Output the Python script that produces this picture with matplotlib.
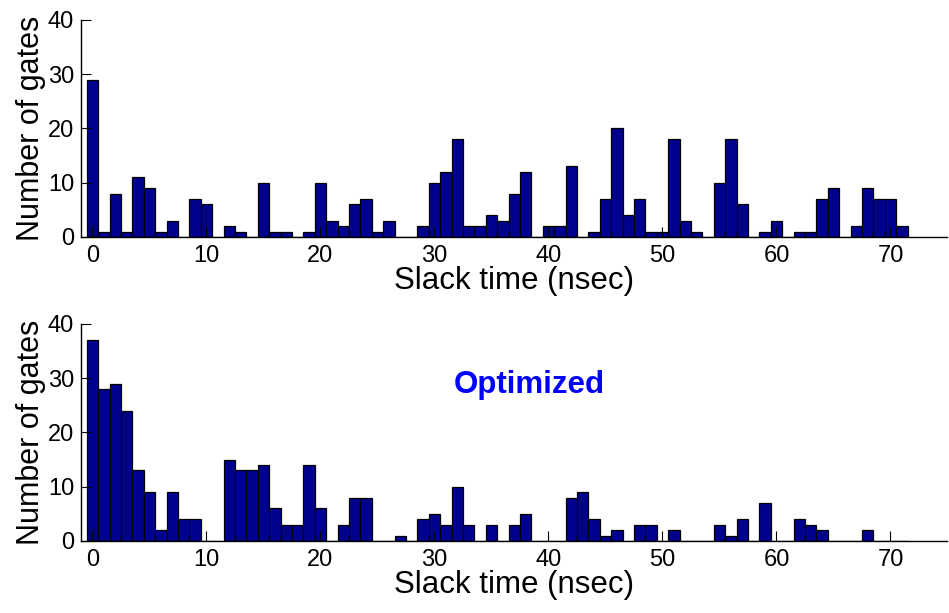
import numpy as np
import matplotlib.pyplot as plt

plt.rcParams['font.family'] = ['Liberation Sans', 'DejaVu Sans']

# slack time bins (nsec)
slack = np.arange(72)

# gate counts per bin, before optimization
gates_orig = [29, 1, 8, 1, 11, 9, 1, 3, 0, 7,
              6, 0, 2, 1, 0, 10, 1, 1, 0, 1,
              10, 3, 2, 6, 7, 1, 3, 0, 0, 2,
              10, 12, 18, 2, 2, 4, 3, 8, 12, 0,
              2, 2, 13, 0, 1, 7, 20, 4, 7, 1,
              1, 18, 3, 1, 0, 10, 18, 6, 0, 1,
              3, 0, 1, 1, 7, 9, 0, 2, 9, 7,
              7, 2]

# gate counts per bin, after optimization
gates_opt = [37, 28, 29, 24, 13, 9, 2, 9, 4, 4,
             0, 0, 15, 13, 13, 14, 6, 3, 3, 14,
             6, 0, 3, 8, 8, 0, 0, 1, 0, 4,
             5, 3, 10, 3, 0, 3, 0, 3, 5, 0,
             0, 0, 8, 9, 4, 1, 2, 0, 3, 3,
             0, 2, 0, 0, 0, 3, 1, 4, 0, 7,
             0, 0, 4, 3, 2, 0, 0, 0, 2, 0,
             0, 0]

xticks = [0, 10, 20, 30, 40, 50, 60, 70]
yticks = [0, 10, 20, 30, 40]

fig = plt.figure(figsize=(9.49, 6.13), dpi=100)
ax1 = fig.add_axes([0.0854, 0.6134, 0.913, 0.354])
ax2 = fig.add_axes([0.0854, 0.1175, 0.913, 0.354])

for ax, counts in ((ax1, gates_orig), (ax2, gates_opt)):
    ax.bar(slack, counts, width=1.0, color='#00008F', edgecolor='black', linewidth=0.9)
    ax.set_xlim(-1, 75)
    ax.set_ylim(0, 40)
    ax.set_xticks(xticks)
    ax.set_yticks(yticks)
    ax.spines['top'].set_visible(False)
    ax.spines['right'].set_visible(False)
    ax.spines['left'].set_linewidth(1.0)
    ax.spines['bottom'].set_linewidth(1.0)
    ax.tick_params(direction='in', length=7, width=0.8, labelsize=17, pad=5)
    ax.tick_params(axis='x', pad=6)
    ax.set_xlabel('Slack time (nsec)', fontsize=22.5, labelpad=-1)
    ax.set_ylabel('Number of gates', fontsize=22, labelpad=1)

ax2.text(38.3, 28.8, 'Optimized', color='#0000FF', fontsize=22.5,
         fontweight='bold', ha='center', va='center')

fig.savefig('out.png', dpi=100)
